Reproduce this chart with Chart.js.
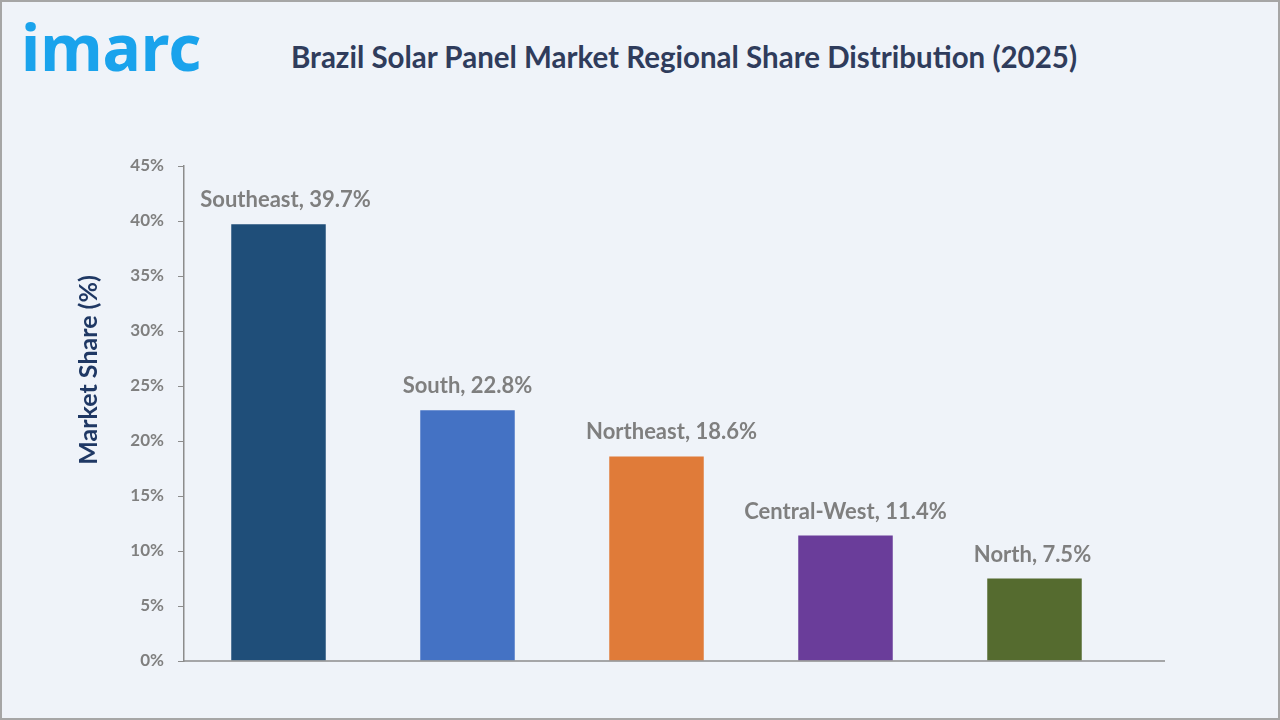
<!DOCTYPE html>
<html>
<head>
<meta charset="utf-8">
<script src="https://cdn.jsdelivr.net/npm/chart.js@4"></script>
<style>
  html, body { margin: 0; padding: 0; }
  body { width: 1280px; height: 720px; background: #eff3f9; position: relative; overflow: hidden; font-family: Lato, "Open Sans", sans-serif; }
  #frame { position: absolute; left: 0; top: 0; width: 1276px; height: 716px; border: 2px solid #a6a6a6; }
  #logo { position: absolute; left: 21px; top: 3px; font-size: 64px; font-weight: 700; color: #1aa3ec; letter-spacing: 0px; font-family: "Noto Sans", sans-serif; }
  #titulo { position: absolute; left: 0; width: 1368px; top: 39px; text-align: center; font-size: 29.5px; font-weight: 700; color: #2f3c5c; }
  #graficoBarras { position: absolute; left: 0; top: 0; }
</style>
</head>
<body>
<div id="frame"></div>
<div id="logo">imarc</div>
<div id="titulo">Brazil Solar Panel Market Regional Share Distribution (2025)</div>
<canvas id="graficoBarras" width="1280" height="720"></canvas>
<script>
const regiones = ['Southeast', 'South', 'Northeast', 'Central-West', 'North'];
const participacion = [39.7, 22.8, 18.6, 11.4, 7.5];
const colores = ['#1f4e79', '#4472c4', '#e07b39', '#6a3d9a', '#556b2f'];
const marcasY = [0, 5, 10, 15, 20, 25, 30, 35, 40, 45];

const gris = '#7f7f7f';
// pequeño corrimiento horizontal de cada etiqueta (px), como en la imagen
const corrimiento = [7, 0, 15, 0, -2];

// etiquetas arriba de cada barra
const etiquetas = {
    id: 'etiquetas',
    afterDatasetsDraw(chart) {
        const ctx = chart.ctx;
        const meta = chart.getDatasetMeta(0);
        ctx.save();
        ctx.font = 'bold 22px Lato';
        ctx.fillStyle = gris;
        ctx.textAlign = 'center';
        ctx.textBaseline = 'middle';
        meta.data.forEach((barra, i) => {
            ctx.fillText(regiones[i] + ', ' + participacion[i] + '%', barra.x + corrimiento[i], barra.y - 24);
        });
        ctx.restore();
    }
};

// linea base del eje x (mas larga que el area) y titulo del eje y
const extras = {
    id: 'extras',
    afterDatasetsDraw(chart) {
        const ctx = chart.ctx;
        const y = chart.scales.y.getPixelForValue(0);
        ctx.save();
        ctx.strokeStyle = '#8c8c8c';
        ctx.lineWidth = 1.5;
        ctx.beginPath();
        ctx.moveTo(chart.chartArea.left, y);
        ctx.lineTo(1165, y);
        ctx.stroke();

        ctx.translate(89, 370);
        ctx.rotate(-Math.PI / 2);
        ctx.font = 'bold 25px Lato';
        ctx.fillStyle = '#1f3864';
        ctx.textAlign = 'center';
        ctx.textBaseline = 'middle';
        ctx.fillText('Market Share (%)', 0, 0);
        ctx.restore();
    }
};

const contexto = document.querySelector('#graficoBarras');

new Chart(contexto, {
    type: 'bar',
    data: {
        labels: regiones,
        datasets: [{
            data: participacion,
            backgroundColor: colores,
            barPercentage: 0.5,
            categoryPercentage: 1
        }]
    },
    options: {
        responsive: false,
        animation: false,
        layout: { padding: { left: 72, top: 166, right: 151, bottom: 0 } },
        plugins: {
            legend: { display: false },
            tooltip: { enabled: false }
        },
        scales: {
            x: {
                ticks: { display: false },
                grid: { display: false },
                border: { display: false },
                afterFit: (s) => { s.height = 59; }
            },
            y: {
                min: 0,
                max: 45,
                afterBuildTicks: (s) => { s.ticks = marcasY.map(v => ({ value: v })); },
                afterFit: (s) => { s.width = 112; },
                ticks: {
                    callback: (v) => v + '%',
                    color: gris,
                    font: { family: 'Lato', size: 17, weight: 'bold' },
                    padding: 14
                },
                grid: {
                    drawOnChartArea: false,
                    drawTicks: true,
                    tickLength: 6,
                    color: '#8c8c8c'
                },
                border: { display: true, color: '#8c8c8c', width: 1.5 }
            }
        }
    },
    plugins: [etiquetas, extras]
});
</script>
</body>
</html>
